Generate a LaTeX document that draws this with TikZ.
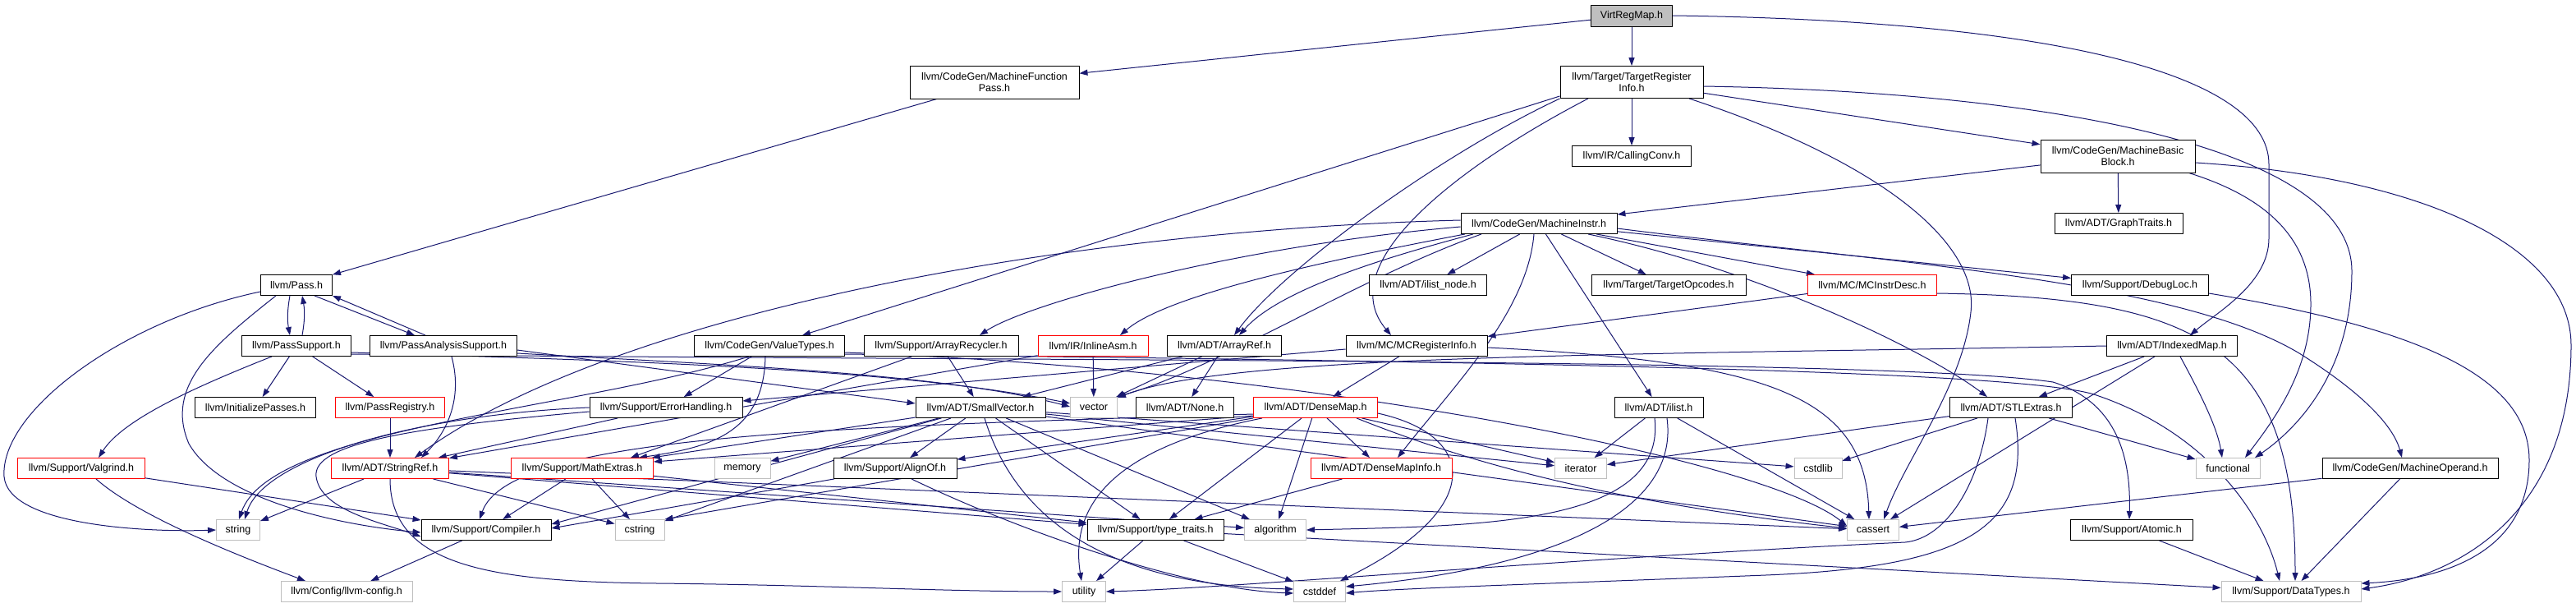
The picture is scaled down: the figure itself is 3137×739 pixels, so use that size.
\documentclass[tikz,border=0pt]{standalone}
\usepackage{fontspec}
\setmainfont{Liberation Sans}
\usetikzlibrary{arrows.meta}
\definecolor{edgeblue}{RGB}{25,25,112}
\definecolor{sysgray}{RGB}{191,191,191}
\pgfdeclarelayer{bg}
\pgfsetlayers{bg,main}
\begin{document}
\begin{tikzpicture}[x=1pt,y=-1pt,
  nd/.style={draw=black, line width=0.9pt, fill=white, minimum height=25pt, inner sep=0pt, font=\fontsize{12.5}{14}\selectfont, align=center},
  nodered/.style={nd, draw=red},
  nodesys/.style={nd, draw=sysgray},
  dep/.style={draw=edgeblue, line width=1pt, -{Triangle[length=10pt,width=7pt]}}]
\useasboundingbox (0,0) rectangle (3137,739);

\node[nd, fill=sysgray, minimum width=99pt, minimum height=26pt] (vrm) at (1987,19) {VirtRegMap.h};
\node[nd, minimum width=206pt, minimum height=40pt] (mfp) at (1211,100) {llvm/CodeGen/MachineFunction\\Pass.h};
\node[nd, minimum width=174pt, minimum height=39pt] (tri) at (1987,100) {llvm/Target/TargetRegister\\Info.h};
\node[nd, minimum width=145pt] (cc) at (1987,190) {llvm/IR/CallingConv.h};
\node[nd, minimum width=188pt, minimum height=40pt] (mbb) at (2579,190) {llvm/CodeGen/MachineBasic\\Block.h};
\node[nd, minimum width=190pt] (mi) at (1874,272) {llvm/CodeGen/MachineInstr.h};
\node[nd, minimum width=156pt] (gt) at (2580,272) {llvm/ADT/GraphTraits.h};
\node[nd, minimum width=87pt] (pass) at (361,347) {llvm/Pass.h};
\node[nd, minimum width=143pt] (iln) at (1739,347) {llvm/ADT/ilist\_node.h};
\node[nd, minimum width=188pt] (tgo) at (2032,347) {llvm/Target/TargetOpcodes.h};
\node[nodered, minimum width=157pt] (mcid) at (2280,347) {llvm/MC/MCInstrDesc.h};
\node[nd, minimum width=167pt] (dl) at (2606,347) {llvm/Support/DebugLoc.h};
\node[nd, minimum width=133pt] (ps) at (361,421) {llvm/PassSupport.h};
\node[nd, minimum width=179pt] (pas) at (540,421) {llvm/PassAnalysisSupport.h};
\node[nd, minimum width=183pt] (vt) at (937,421) {llvm/CodeGen/ValueTypes.h};
\node[nd, minimum width=188pt] (ar) at (1146,421) {llvm/Support/ArrayRecycler.h};
\node[nodered, minimum width=134pt] (ia) at (1331,421) {llvm/IR/InlineAsm.h};
\node[nd, minimum width=139pt] (aref) at (1491,421) {llvm/ADT/ArrayRef.h};
\node[nd, minimum width=172pt] (mcri) at (1725,421) {llvm/MC/MCRegisterInfo.h};
\node[nd, minimum width=159pt] (im) at (2645,421) {llvm/ADT/IndexedMap.h};
\node[nd, minimum width=147pt] (ip) at (311,496) {llvm/InitializePasses.h};
\node[nodered, minimum width=133pt] (pr) at (475,496) {llvm/PassRegistry.h};
\node[nd, minimum width=186pt] (eh) at (811,496) {llvm/Support/ErrorHandling.h};
\node[nd, minimum width=158pt] (sv) at (1194,496) {llvm/ADT/SmallVector.h};
\node[nodesys, minimum width=57pt] (vec) at (1332,496) {vector};
\node[nd, minimum width=119pt] (none) at (1443,496) {llvm/ADT/None.h};
\node[nodered, minimum width=151pt] (dm) at (1602,496) {llvm/ADT/DenseMap.h};
\node[nd, minimum width=108pt] (ilist) at (2020,496) {llvm/ADT/ilist.h};
\node[nd, minimum width=149pt] (stl) at (2449,496) {llvm/ADT/STLExtras.h};
\node[nodered, minimum width=155pt] (vg) at (99,570) {llvm/Support/Valgrind.h};
\node[nodered, minimum width=143pt] (sr) at (475,570) {llvm/ADT/StringRef.h};
\node[nodered, minimum width=173pt] (me) at (709,570) {llvm/Support/MathExtras.h};
\node[nodesys, minimum width=68pt] (mem) at (904,570) {memory};
\node[nd, minimum width=150pt] (ao) at (1090,570) {llvm/Support/AlignOf.h};
\node[nodered, minimum width=172pt] (dmi) at (1682,570) {llvm/ADT/DenseMapInfo.h};
\node[nodesys, minimum width=63pt] (itr) at (1925,570) {iterator};
\node[nodesys, minimum width=58pt] (cstdlib) at (2214,570) {cstdlib};
\node[nodesys, minimum width=78pt] (fn) at (2713,570) {functional};
\node[nd, minimum width=214pt] (mo) at (2935,570) {llvm/CodeGen/MachineOperand.h};
\node[nodesys, minimum width=53pt] (str) at (290,645) {string};
\node[nd, minimum width=158pt] (comp) at (592,645) {llvm/Support/Compiler.h};
\node[nodesys, minimum width=60pt] (cstring) at (779,645) {cstring};
\node[nd, minimum width=166pt] (tt) at (1407,645) {llvm/Support/type\_traits.h};
\node[nodesys, minimum width=75pt] (alg) at (1553,645) {algorithm};
\node[nodesys, minimum width=63pt] (cassert) at (2281,645) {cassert};
\node[nd, minimum width=149pt] (atomic) at (2596,645) {llvm/Support/Atomic.h};
\node[nodesys, minimum width=160pt] (cfg) at (422,720) {llvm/Config/llvm-config.h};
\node[nodesys, minimum width=53pt] (util) at (1320,720) {utility};
\node[nodesys, minimum width=63pt] (cstddef) at (1607,720) {cstddef};
\node[nodesys, minimum width=170pt] (dt) at (2790,720) {llvm/Support/DataTypes.h};

\begin{pgfonlayer}{bg}
\fill[white] (0,0) rectangle (3137,739);
% VirtRegMap
\draw[dep] (vrm) -- (mfp);
\draw[dep] (vrm) -- (tri);
\draw[dep] (vrm.east) .. controls (2500,25) and (2763,90) .. (2763,200) -- (2763,290) .. controls (2763,345) and (2700,380) .. ([xshift=22pt]im.north);
% MachineFunctionPass
\draw[dep] (mfp) -- (pass);
% TargetRegisterInfo
\draw[dep] (tri) -- (cc);
\draw[dep] (tri) -- (mbb);
\draw[dep] ([yshift=-5pt]tri.east) .. controls (2500,112) and (2864,180) .. (2864,330) .. controls (2864,450) and (2800,520) .. ([xshift=33pt]fn.north);
\draw[dep] ([yshift=3pt]tri.south west) -- ([xshift=40pt]vt.north);
\draw[dep] (tri.south west) .. controls (1750,190) and (1560,330) .. ([xshift=12pt]aref.north);
\draw[dep] ([xshift=-53pt]tri.south) .. controls (1780,200) and (1620,320) .. ([xshift=-31pt]mcri.north);
\draw[dep] ([xshift=70pt]tri.south) .. controls (2300,200) and (2410,300) .. (2400,380) .. controls (2390,470) and (2320,560) .. ([xshift=13pt]cassert.north);
% MachineBasicBlock
\draw[dep] (mbb) -- (gt);
\draw[dep] (mbb) -- (mi);
\draw[dep] ([xshift=-8pt]mbb.south east) .. controls (2760,240) and (2814,290) .. (2814,370) .. controls (2814,450) and (2770,510) .. ([xshift=21pt]fn.north);
\draw[dep] ([yshift=-8pt]mbb.east) .. controls (2950,215) and (3131,300) .. (3131,420) .. controls (3131,620) and (3000,700) .. ([yshift=3pt]dt.east);
% MachineInstr
\draw[dep] (mi) -- (iln);
\draw[dep] (mi) -- (tgo);
\draw[dep] (mi) -- (mcid);
\draw[dep] (mi) -- (dl);
\draw[dep] (mi) -- (ilist);
\draw[dep] ([xshift=-6pt]mi.south) .. controls (1860,380) and (1770,470) .. ([xshift=20pt]dmi.north);
\draw[dep] ([xshift=60pt]mi.south) .. controls (2150,330) and (2350,430) .. ([xshift=-29pt]stl.north);
\draw[dep] ([yshift=-6pt]mi.east) .. controls (2300,320) and (2650,340) .. (2800,430) .. controls (2880,480) and (2915,520) .. ([xshift=-10pt]mo.north);
\draw[dep] ([xshift=-80pt]mi.south) .. controls (1700,310) and (1560,350) .. ([xshift=18pt]aref.north);
\draw[dep] ([xshift=-90pt]mi.south) .. controls (1600,320) and (1420,360) .. ([xshift=33pt]ia.north);
\draw[dep] ([yshift=-4pt]mi.west) .. controls (1500,300) and (1250,370) .. ([xshift=47pt]ar.north);
\draw[dep] ([yshift=4pt]mi.west) .. controls (1300,280) and (750,380) .. ([xshift=30pt]sr.north);
\draw[dep] ([xshift=-70pt]mi.south) .. controls (1650,340) and (1480,450) .. ([xshift=27pt]vec.north);
% MCInstrDesc
\draw[dep] (mcid) -- (mcri);
\draw[dep] ([yshift=-10pt]mcid.east) .. controls (2680,362) and (2795,420) .. ([xshift=5pt]dt.north);
% DebugLoc
\draw[dep] ([yshift=-10pt]dl.east) .. controls (2950,400) and (3080,460) .. (3080,560) .. controls (3080,670) and (2980,705) .. ([yshift=10pt]dt.east);
% MachineOperand
\draw[dep] (mo) -- (cassert);
\draw[dep] (mo) -- (dt);
% IndexedMap
\draw[dep] (im) -- (stl);
\draw[dep] (im) -- (cassert);
\draw[dep] ([xshift=10pt]im.south) .. controls (2680,480) and (2700,520) .. ([xshift=-7pt]fn.north);
\draw[dep] (im.west) .. controls (2000,432) and (1500,430) .. ([xshift=29pt,yshift=-1pt]vec.north);
% STLExtras
\draw[dep] (stl) -- (itr);
\draw[dep] (stl) -- (cstdlib);
\draw[dep] (stl) -- (fn);
\draw[dep] ([xshift=5pt]stl.south) .. controls (2475,640) and (2400,690) .. (2150,700) .. controls (1900,710) and (1700,716) .. ([yshift=-2pt]cstddef.east);
\draw[dep] ([xshift=-28pt]stl.south) .. controls (2410,590) and (2370,655) .. (2320,660) .. controls (1900,680) and (1500,716) .. (util.east);
% ilist
\draw[dep] (ilist) -- (itr);
\draw[dep] (ilist) -- (cassert);
\draw[dep] ([xshift=-5pt]ilist.south) .. controls (2030,640) and (1800,640) .. (alg.east);
\draw[dep] ([xshift=10pt]ilist.south) .. controls (2045,620) and (1900,690) .. ([yshift=6pt]cstddef.east);
% MCRegisterInfo
\draw[dep] (mcri) -- (dm);
\draw[dep] ([yshift=-4pt]mcri.west) -- ([yshift=8pt]eh.east);
\draw[dep] ([yshift=-2pt]mcri.east) .. controls (2150,440) and (2272,480) .. ([xshift=-5pt]cassert.north);
% DenseMap
\draw[dep] (dm) -- (dmi);
\draw[dep] (dm) -- (itr);
\draw[dep] ([xshift=50pt]dm.south) .. controls (1780,560) and (1950,610) .. ([yshift=2pt]cassert.west);
\draw[dep] ([yshift=-7pt]dm.east) .. controls (1800,530) and (1810,620) .. ([xshift=25pt]cstddef.north);
\draw[dep] (dm) -- (alg);
\draw[dep] (dm) -- (tt);
\draw[dep] ([xshift=-65pt]dm.south) .. controls (1380,540) and (1300,600) .. ([xshift=-3pt]util.north);
\draw[dep] (dm) -- (ao);
\draw[dep] ([yshift=-10pt]dm.west) -- ([yshift=8pt]me.east);
\draw[dep] ([yshift=-8pt]dm.west) .. controls (1000,520) and (620,530) .. ([xshift=-8pt]comp.north);
\draw[dep] (dm.south west) -- (cstring.north east);
% DenseMapInfo
\draw[dep] (dmi) -- (tt);
% SmallVector
\draw[dep] (sv) -- (ao);
\draw[dep] (sv) -- (mem);
\draw[dep] (sv) -- (tt);
\draw[dep] (sv) -- (alg);
\draw[dep] (sv) -- (cassert);
\draw[dep] (sv) -- (cstdlib);
\draw[dep] (sv) -- (itr);
\draw[dep] ([xshift=5pt]sv.south) .. controls (1230,610) and (1320,712) .. ([yshift=3pt]cstddef.west);
\draw[dep] (sv) -- (cstring);
\draw[dep] (sv) -- (me);
\draw[dep] (sv) -- ([yshift=7pt]comp.east);
% AlignOf
\draw[dep] (ao) -- ([yshift=2pt]comp.east);
\draw[dep] ([xshift=20pt]ao.south) .. controls (1250,650) and (1450,718) .. ([yshift=-2pt]cstddef.west);
% type_traits
\draw[dep] (tt) -- (util);
\draw[dep] (tt) -- (cstddef);
\draw[dep] (tt) -- (dt);
% Compiler, Valgrind
\draw[dep] (comp) -- (cfg);
\draw[dep] ([xshift=18pt]vg.south) .. controls (170,630) and (300,680) .. ([xshift=-50pt]cfg.north);
\draw[dep] (vg) -- (comp);
% Pass
\draw[dep] ([xshift=-8pt]pass.south) to[bend right=10] ([xshift=-8pt]ps.north);
\draw[dep] ([xshift=7pt]ps.north) to[bend right=10] ([xshift=7pt]pass.south);
\draw[dep] ([xshift=22pt]pass.south) -- ([xshift=-35pt]pas.north);
\draw[dep] ([xshift=-22pt]pas.north) -- (pass.south east);
\draw[dep] ([yshift=-8pt]pass.west) .. controls (150,390) and (0,500) .. (5,580) .. controls (10,640) and (180,648) .. (str.west);
\draw[dep] ([xshift=-25pt]pass.south) .. controls (260,420) and (200,470) .. (230,540) .. controls (270,610) and (420,640) .. ([yshift=-3pt]comp.west);
% PassSupport
\draw[dep] (ps) -- (ip);
\draw[dep] (ps) -- (pr);
\draw[dep] ([xshift=-30pt]ps.south) .. controls (240,470) and (150,510) .. ([xshift=21pt]vg.north);
\draw[dep] ([yshift=-8pt]ps.east) .. controls (800,440) and (1100,450) .. ([yshift=5pt]vec.west);
\draw[dep] ([yshift=-10pt]ps.east) .. controls (1200,440) and (2300,435) .. (2500,465) .. controls (2580,490) and (2595,560) .. ([xshift=-3pt]atomic.north);
% PassAnalysisSupport
\draw[dep] ([xshift=10pt]pas.south) .. controls (565,490) and (540,530) .. ([xshift=38pt]sr.north);
\draw[dep] ([yshift=-5pt]pas.east) -- ([yshift=5pt]sv.west);
\draw[dep] ([yshift=-9pt]pas.east) .. controls (900,445) and (1150,455) .. ([yshift=1pt]vec.west);
% PassRegistry
\draw[dep] (pr) -- (sr);
% ErrorHandling
\draw[dep] (eh) -- (sr);
\draw[dep] ([yshift=-5pt]eh.west) .. controls (500,520) and (380,540) .. (385,580) .. controls (390,620) and (460,635) .. ([yshift=-8pt]comp.west);
\draw[dep] (eh.west) .. controls (500,505) and (320,560) .. ([xshift=8pt]str.north);
% ValueTypes
\draw[dep] (vt) -- (eh);
\draw[dep] ([xshift=-25pt]vt.south) .. controls (700,500) and (330,520) .. ([xshift=1pt]str.north);
\draw[dep] ([xshift=-5pt]vt.south) .. controls (930,530) and (860,545) .. ([xshift=-18pt]me.north east);
\draw[dep] ([yshift=-8pt]vt.east) .. controls (1600,450) and (2150,560) .. ([yshift=5pt]cassert.west);
\draw[dep] ([yshift=-10pt]vt.east) .. controls (1800,440) and (2450,450) .. (2550,480) .. controls (2700,530) and (2760,640) .. ([xshift=-14pt]dt.north);
% ArrayRecycler
\draw[dep] (ar) -- (sv);
\draw[dep] (ar) -- ([xshift=-28pt]me.north east);
% ArrayRef
\draw[dep] (aref) -- (none);
\draw[dep] (aref) -- (vec);
\draw[dep] (aref) -- (sv);
% InlineAsm
\draw[dep] (ia) -- (vec);
\draw[dep] (ia) -- (sr);
% StringRef
\draw[dep] (sr) -- (str);
\draw[dep] (sr) -- (cstring);
\draw[dep] (sr.south) .. controls (475,690) and (600,708) .. (800,710) .. controls (1000,712) and (1150,720) .. (util.west);
\draw[dep] (sr) -- (tt);
\draw[dep] (sr) -- (alg);
\draw[dep] (sr) -- (cassert);
% MathExtras
\draw[dep] (me) -- (comp);
\draw[dep] (me) -- (cstring);
\draw[dep] (me) -- (tt);
% Atomic
\draw[dep] (atomic) -- (dt);
\end{pgfonlayer}
\end{tikzpicture}
\end{document}
